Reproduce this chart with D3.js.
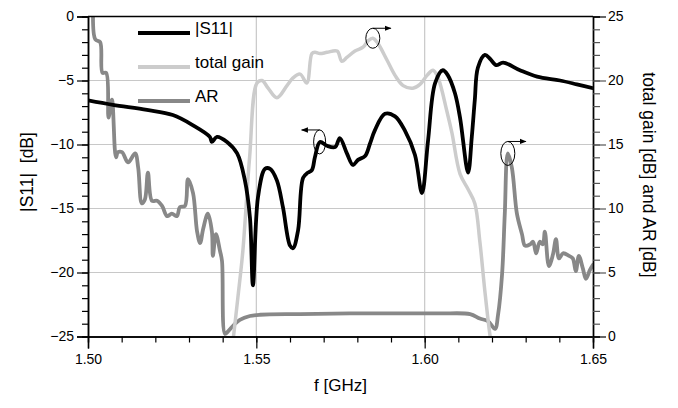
<!DOCTYPE html>
<html lang="en">
<head>
<meta charset="UTF-8">
<title>S11, gain and AR</title>
<script src="https://cdn.jsdelivr.net/npm/d3@7"></script>
<style>
    body { margin: 0; background: #fff; }
    svg text { font-family: Arial, "Liberation Sans", sans-serif; fill: #000; }
    .tick text { font-size: 14px; }
</style>
</head>
<body>
<svg id="chart" width="678" height="408"></svg>
<script>
// |S11| in dB (left axis)
let s11Freq = [1.5000, 1.5074, 1.5175, 1.5252, 1.5312, 1.5362, 1.5368, 1.5383, 1.5413, 1.5443,
    1.5466, 1.5481, 1.5490, 1.5505, 1.5526, 1.5541, 1.5561, 1.5579, 1.5600, 1.5609,
    1.5624, 1.5639, 1.5653, 1.5665, 1.5674, 1.5689, 1.5710, 1.5734, 1.5748, 1.5769,
    1.5787, 1.5802, 1.5823, 1.5838, 1.5852, 1.5882, 1.5912, 1.5941, 1.5971, 1.5992,
    1.6010, 1.6031, 1.6054, 1.6069, 1.6090, 1.6105, 1.6129, 1.6140, 1.6149, 1.6158,
    1.6179, 1.6194, 1.6212, 1.6233, 1.6283, 1.6334, 1.6402, 1.6452, 1.6500];
let s11Db = [-6.55, -6.9, -7.3, -7.7, -8.5, -9.4, -9.8, -9.4, -9.8, -10.7,
    -12.8, -15.7, -21.0, -14.1, -11.9, -11.9, -12.8, -14.9, -17.9, -18.1,
    -16.7, -12.6, -12.2, -12.0, -11.0, -9.8, -10.1, -10.2, -9.5, -10.7,
    -11.6, -11.2, -10.9, -9.9, -8.9, -7.6, -7.8, -8.9, -10.8, -13.8,
    -9.7, -5.2, -4.2, -4.6, -6.0, -7.9, -12.2, -9.4, -6.5, -4.0,
    -3.0, -3.3, -3.8, -3.6, -4.2, -4.7, -5.0, -5.3, -5.6];

// total gain in dB (right axis)
let gainFreq = [1.5430, 1.5445, 1.5460, 1.5480, 1.5502, 1.5517, 1.5535, 1.5561, 1.5591, 1.5609,
    1.5630, 1.5650, 1.5665, 1.5674, 1.5689, 1.5710, 1.5740, 1.5754, 1.5769, 1.5793,
    1.5817, 1.5832, 1.5846, 1.5861, 1.5888, 1.5912, 1.5936, 1.5965, 1.5986, 1.6007,
    1.6025, 1.6040, 1.6066, 1.6081, 1.6105, 1.6129, 1.6149, 1.6164, 1.6179, 1.6194, 1.6200];
let gainDb = [-0.5, 3.0, 6.7, 14.0, 19.8, 20.0, 19.4, 18.65, 19.6, 20.2,
    20.5, 19.8, 22.1, 22.2, 22.1, 22.2, 22.3, 21.5, 21.8, 22.3,
    22.6, 23.1, 23.3, 22.9, 21.6, 20.4, 19.6, 19.4, 19.7, 20.4,
    20.8, 20.2, 17.6, 15.9, 12.7, 11.5, 10.4, 7.4, 3.5, 0.1, -0.8];

// axial ratio in dB (right axis)
let arFreq = [1.5015, 1.5022, 1.5036, 1.5043, 1.5054, 1.5061, 1.5071, 1.5083, 1.5089, 1.5101,
    1.5119, 1.5140, 1.5149, 1.5160, 1.5169, 1.5178, 1.5190, 1.5205, 1.5220, 1.5235,
    1.5249, 1.5264, 1.5273, 1.5288, 1.5297, 1.5312, 1.5324, 1.5333, 1.5342, 1.5356,
    1.5368, 1.5371, 1.5380, 1.5392, 1.5398, 1.5407, 1.5416, 1.5437, 1.5451, 1.5481,
    1.5511, 1.5630, 1.5778, 1.5927, 1.6045, 1.6135, 1.6164, 1.6188, 1.6209, 1.6218,
    1.6230, 1.6238, 1.6247, 1.6259, 1.6274, 1.6289, 1.6298, 1.6313, 1.6322, 1.6331,
    1.6342, 1.6351, 1.6357, 1.6369, 1.6381, 1.6390, 1.6399, 1.6411, 1.6429, 1.6440,
    1.6449, 1.6458, 1.6470, 1.6479, 1.6491, 1.6500];
let arDb = [25.5, 23.2, 23.0, 20.6, 20.6, 17.1, 18.5, 14.0, 14.4, 14.4,
    13.6, 14.3, 13.2, 10.4, 10.7, 12.8, 10.6, 10.6, 10.2, 9.4,
    9.6, 9.4, 10.1, 10.2, 12.3, 11.2, 8.2, 7.3, 8.4, 9.6,
    8.2, 6.3, 8.0, 6.7, 5.9, 0.2, 0.4, 1.0, 1.3, 1.6,
    1.7, 1.75, 1.8, 1.8, 1.8, 1.75, 1.4, 1.2, 0.6, 1.7,
    4.9, 9.6, 14.3, 13.2, 9.6, 8.0, 7.1, 7.2, 7.4, 6.5,
    7.4, 7.2, 8.2, 5.5, 6.4, 7.6, 6.1, 6.5, 6.3, 6.1,
    5.1, 6.3, 5.3, 4.5, 5.2, 5.6];

let xTicks = [1.50, 1.55, 1.60, 1.65];
let leftTicks = [0, -5, -10, -15, -20, -25];
let rightTicks = [0, 5, 10, 15, 20, 25];
let legendNames = ['|S11|', 'total gain', 'AR'];

let margin = {top: 16.5, left: 88, right: 85, bottom: 71.5};
let width = 678 - margin.left - margin.right,
    height = 408 - margin.top - margin.bottom;

let colS11 = '#000000', colGain = '#cccccc', colAR = '#888888';

let svg = d3.select('#chart');
let g = svg.append('g').attr('transform', 'translate(' + margin.left + ',' + margin.top + ')');

let x = d3.scaleLinear().domain([1.50, 1.65]).range([0, width]);
let yL = d3.scaleLinear().domain([-25, 0]).range([height, 0]);
let yR = d3.scaleLinear().domain([0, 25]).range([height, 0]);

g.append('clipPath').attr('id', 'clip')
    .append('rect').attr('width', width).attr('height', height);

// grid
g.selectAll('.hgrid').data(leftTicks.filter(d => d !== 0 && d !== -25))
    .enter().append('line')
    .attr('x1', 0).attr('x2', width)
    .attr('y1', d => yL(d)).attr('y2', d => yL(d))
    .attr('stroke', '#c8c8c8').attr('stroke-width', 1.2);
g.selectAll('.vgrid').data(xTicks.slice(1, -1))
    .enter().append('line')
    .attr('x1', d => x(d)).attr('x2', d => x(d))
    .attr('y1', 0).attr('y2', height)
    .attr('stroke', '#c8c8c8').attr('stroke-width', 1.2);

// curves
let plot = g.append('g').attr('clip-path', 'url(#clip)');
function drawLine(fx, fy, scaleY, color, w) {
    let pts = fx.map((f, i) => [f, fy[i]]);
    plot.append('path').datum(pts)
        .attr('fill', 'none').attr('stroke', color).attr('stroke-width', w)
        .attr('stroke-linejoin', 'round').attr('stroke-linecap', 'round')
        .attr('d', d3.line().x(d => x(d[0])).y(d => scaleY(d[1])).curve(d3.curveCatmullRom.alpha(0.5)));
}
drawLine(arFreq, arDb, yR, colAR, 3.8);
drawLine(gainFreq, gainDb, yR, colGain, 3.5);
drawLine(s11Freq, s11Db, yL, colS11, 3.8);

// axes
g.append('g').attr('transform', 'translate(0,' + height + ')')
    .call(d3.axisBottom(x).tickValues(xTicks).tickSize(12).tickPadding(6).tickFormat(d3.format('.2f')));
g.append('g').attr('transform', 'translate(0,' + height + ')')
    .call(d3.axisBottom(x).tickValues(d3.range(1.51, 1.65, 0.01)).tickSize(6).tickFormat(''));
g.append('g')
    .call(d3.axisLeft(yL).tickValues(leftTicks).tickSize(11).tickPadding(3).tickFormat(d3.format('d')));
g.append('g').call(d3.axisLeft(yL).tickValues(d3.range(-24, 0, 1)).tickSize(6).tickFormat(''));
let rightAxis = g.append('g').attr('transform', 'translate(' + width + ',0)')
    .call(d3.axisRight(yR).tickValues(rightTicks).tickSize(13).tickPadding(2).tickFormat(d3.format('d')));
let rightMinor = g.append('g').attr('transform', 'translate(' + width + ',0)')
    .call(d3.axisRight(yR).tickValues(d3.range(1, 25, 1)).tickSize(7).tickFormat(''));

g.selectAll('.domain').attr('stroke', '#000').attr('stroke-width', 1.5);
g.selectAll('.tick line').attr('stroke', '#000').attr('stroke-width', 1.2);
g.selectAll('.tick text').style('font-size', '14px').attr('fill', '#000');
rightAxis.selectAll('.tick line').attr('stroke', '#555');
rightMinor.selectAll('.tick line').attr('stroke', '#555');
rightAxis.select('.domain').attr('stroke', '#555');
g.append('line').attr('x1', 0).attr('x2', width).attr('y1', 0).attr('y2', 0)
    .attr('stroke', '#000').attr('stroke-width', 1.5);

// titles
svg.append('text').attr('transform', 'translate(33,172) rotate(-90)')
    .attr('text-anchor', 'middle').style('font-size', '17.5px').style('white-space', 'pre')
    .text('|S11|  [dB]');
svg.append('text').attr('transform', 'translate(643,175) rotate(90)')
    .attr('text-anchor', 'middle').style('font-size', '17.5px')
    .text('total gain [dB] and AR [dB]');
svg.append('text').attr('x', margin.left + width / 2).attr('y', 391)
    .attr('text-anchor', 'middle').style('font-size', '17px')
    .text('f [GHz]');

// legend
let legColors = [colS11, colGain, colAR];
let leg = svg.selectAll('.leg').data(legendNames).enter().append('g')
    .attr('transform', (d, i) => 'translate(138,' + (33 + i * 34) + ')');
leg.append('line').attr('x1', 0).attr('x2', 52).attr('y1', 0).attr('y2', 0)
    .attr('stroke', (d, i) => legColors[i]).attr('stroke-width', 4);
leg.append('text').attr('x', 57).attr('y', 0).attr('dy', '0.05em')
    .style('font-size', '17px').text(d => d);

// annotations: ellipse marks with arrows pointing to the relevant axis
svg.append('defs').append('marker').attr('id', 'arr')
    .attr('viewBox', '0 0 10 10').attr('refX', 9).attr('refY', 5)
    .attr('markerWidth', 7).attr('markerHeight', 7).attr('orient', 'auto')
    .append('path').attr('d', 'M0,1 L10,5 L0,9 Z').attr('fill', '#000');
let notes = [
    {f: 1.5688, v: -9.8, s: yL, rx: 6, ry: 12, dx: -18},
    {f: 1.5846, v: 23.3, s: yR, rx: 7, ry: 10, dx: 18},
    {f: 1.6247, v: 14.3, s: yR, rx: 7, ry: 12, dx: 18}
];
notes.forEach(n => {
    let cx = margin.left + x(n.f), cy = margin.top + n.s(n.v);
    svg.append('ellipse').attr('cx', cx).attr('cy', cy).attr('rx', n.rx).attr('ry', n.ry)
        .attr('fill', 'none').attr('stroke', '#000').attr('stroke-width', 1);
    svg.append('line').attr('x1', cx).attr('y1', cy - n.ry).attr('x2', cx + n.dx).attr('y2', cy - n.ry)
        .attr('stroke', '#000').attr('stroke-width', 1).attr('marker-end', 'url(#arr)');
});
</script>
</body>
</html>
